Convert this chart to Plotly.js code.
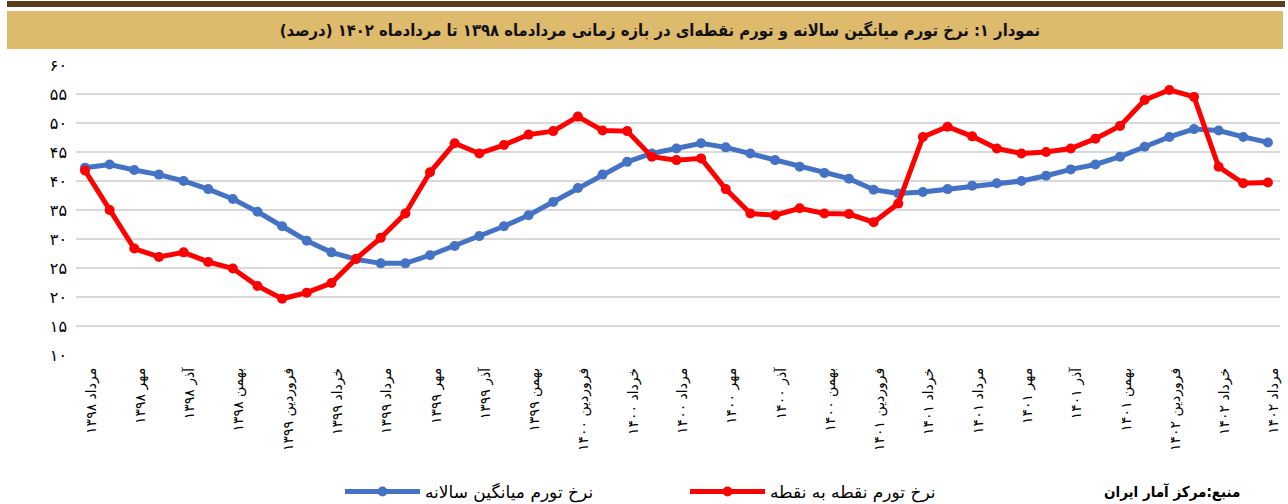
<!DOCTYPE html>
<html>
<head>
<meta charset="utf-8">
<script src="https://cdn.plot.ly/plotly-3.0.1.min.js"></script>
<style>
  html, body { margin: 0; padding: 0; background: #ffffff; }
  #chart { width: 1288px; height: 504px; }
</style>
</head>
<body>
<div id="chart"></div>
<script>
// Tick labels (every second month, Mordad 1398 .. Mordad 1402)
const tickLabels = [
  "مرداد ۱۳۹۸", "مهر ۱۳۹۸", "آذر ۱۳۹۸", "بهمن ۱۳۹۸",
  "فروردین ۱۳۹۹", "خرداد ۱۳۹۹", "مرداد ۱۳۹۹", "مهر ۱۳۹۹", "آذر ۱۳۹۹", "بهمن ۱۳۹۹",
  "فروردین ۱۴۰۰", "خرداد ۱۴۰۰", "مرداد ۱۴۰۰", "مهر ۱۴۰۰", "آذر ۱۴۰۰", "بهمن ۱۴۰۰",
  "فروردین ۱۴۰۱", "خرداد ۱۴۰۱", "مرداد ۱۴۰۱", "مهر ۱۴۰۱", "آذر ۱۴۰۱", "بهمن ۱۴۰۱",
  "فروردین ۱۴۰۲", "خرداد ۱۴۰۲", "مرداد ۱۴۰۲"
];

// Annual average inflation rate (%)
const annualAvg = [
  42.3, 42.85, 41.9, 41.1, 40.0, 38.6, 36.9, 34.7, 32.2, 29.7,
  27.7, 26.5, 25.8, 25.8, 27.2, 28.8, 30.5, 32.2, 34.1, 36.4,
  38.8, 41.1, 43.3, 44.75, 45.6, 46.5, 45.8, 44.75, 43.6, 42.45,
  41.4, 40.4, 38.5, 37.85, 38.1, 38.6, 39.2, 39.6, 40.0, 40.9,
  42.0, 42.85, 44.2, 45.9, 47.6, 48.95, 48.7, 47.6, 46.65
];

// Point-to-point inflation rate (%)
const pointToPoint = [
  41.8, 35.0, 28.35, 26.9, 27.7, 26.05, 24.9, 21.9, 19.7, 20.75,
  22.4, 26.6, 30.2, 34.4, 41.5, 46.5, 44.75, 46.2, 48.0, 48.6,
  51.1, 48.7, 48.6, 44.2, 43.6, 43.9, 38.6, 34.4, 34.1, 35.3,
  34.4, 34.3, 32.9, 36.1, 47.6, 49.35, 47.7, 45.6, 44.75, 45.0,
  45.6, 47.3, 49.5, 53.96, 55.7, 54.5, 42.45, 39.6, 39.75
];

const yTickVals = [10, 15, 20, 25, 30, 35, 40, 45, 50, 55, 60];
const yTickText = ["۱۰", "۱۵", "۲۰", "۲۵", "۳۰", "۳۵", "۴۰", "۴۵", "۵۰", "۵۵", "۶۰"];

const seriesNames = ["نرخ تورم میانگین سالانه", "نرخ تورم نقطه به نقطه"];
const titleText = "نمودار ۱: نرخ تورم میانگین سالانه و تورم نقطه‌ای در بازه زمانی مردادماه ۱۳۹۸ تا مردادماه ۱۴۰۲ (درصد)";
const sourceText = "منبع:مرکز آمار ایران";

const xIdx = annualAvg.map((_, i) => i);
const tickVals = tickLabels.map((_, i) => i * 2);

const FONT = "DejaVu Sans, Noto Sans, sans-serif";
const FONT_C = "DejaVu Sans Condensed, DejaVu Sans, sans-serif";

const traces = [
  {
    x: xIdx, y: annualAvg, name: seriesNames[0], type: "scatter", mode: "lines+markers",
    line: { color: "#4472C4", width: 5 },
    marker: { color: "#4472C4", size: 10 },
    cliponaxis: false
  },
  {
    x: xIdx, y: pointToPoint, name: seriesNames[1], type: "scatter", mode: "lines+markers",
    line: { color: "#FF0000", width: 5 },
    marker: { color: "#FF0000", size: 10 },
    cliponaxis: false
  }
];

// pixel helpers for placing decorations
const L = 76, R = 8, T = 65, B = 149, W = 1288, H = 504;
const pw = W - L - R, ph = H - T - B;
const px2x = p => (p - L) / pw;
const px2y = p => (H - B - p) / ph;

const layout = {
  width: W, height: H,
  margin: { l: L, r: R, t: T, b: B, pad: 0 },
  paper_bgcolor: "#ffffff",
  plot_bgcolor: "#ffffff",
  font: { family: FONT, color: "#000000", size: 13 },
  showlegend: true,
  title: {
    text: titleText,
    font: { family: FONT_C, size: 16.5, color: "#111111", weight: "bold" },
    xref: "container", yref: "container",
    x: 660 / W, y: 1 - 30 / H, xanchor: "center", yanchor: "middle"
  },
  xaxis: {
    range: [-0.365, 48.49],
    tickmode: "array", tickvals: tickVals, ticktext: tickLabels,
    tickangle: -90,
    tickfont: { family: FONT, size: 14, color: "#000000" },
    showgrid: false, zeroline: false, showline: false, ticks: "",
    ticklabelshift: 6, ticklabelstandoff: 9,
    automargin: false,
    fixedrange: true
  },
  yaxis: {
    range: [10, 60],
    tickmode: "array", tickvals: yTickVals, ticktext: yTickText,
    tickfont: { family: FONT, size: 16, color: "#000000" },
    showgrid: true, gridcolor: "#d9d9d9", gridwidth: 2,
    zeroline: false, showline: false, ticks: "",
    ticklabelstandoff: 8,
    automargin: false,
    fixedrange: true
  },
  legend: {
    orientation: "h",
    xref: "container", yref: "container",
    x: 340 / W, xanchor: "left",
    y: 1 - 492 / H, yanchor: "middle",
    font: { family: FONT, size: 17, color: "#000000" },
    itemwidth: 75,
    entrywidth: 255, entrywidthmode: "pixels",
    traceorder: "normal",
    bgcolor: "rgba(0,0,0,0)"
  },
  shapes: [
    { type: "rect", xref: "paper", yref: "paper", layer: "below",
      x0: px2x(7), x1: px2x(1283), y0: px2y(49), y1: px2y(11),
      fillcolor: "#DEBA6C", line: { width: 0 } },
    { type: "rect", xref: "paper", yref: "paper", layer: "below",
      x0: px2x(7), x1: px2x(1285), y0: px2y(7), y1: px2y(1),
      fillcolor: "#5C3E1E", line: { width: 0 } }
  ],
  annotations: [
    { text: sourceText, xref: "paper", yref: "paper",
      x: px2x(1172), y: px2y(492), xanchor: "center", yanchor: "middle",
      showarrow: false,
      font: { family: FONT_C, size: 15, color: "#000000", weight: "bold" } }
  ]
};

Plotly.newPlot("chart", traces, layout, { displayModeBar: false, staticPlot: true });
</script>
</body>
</html>
